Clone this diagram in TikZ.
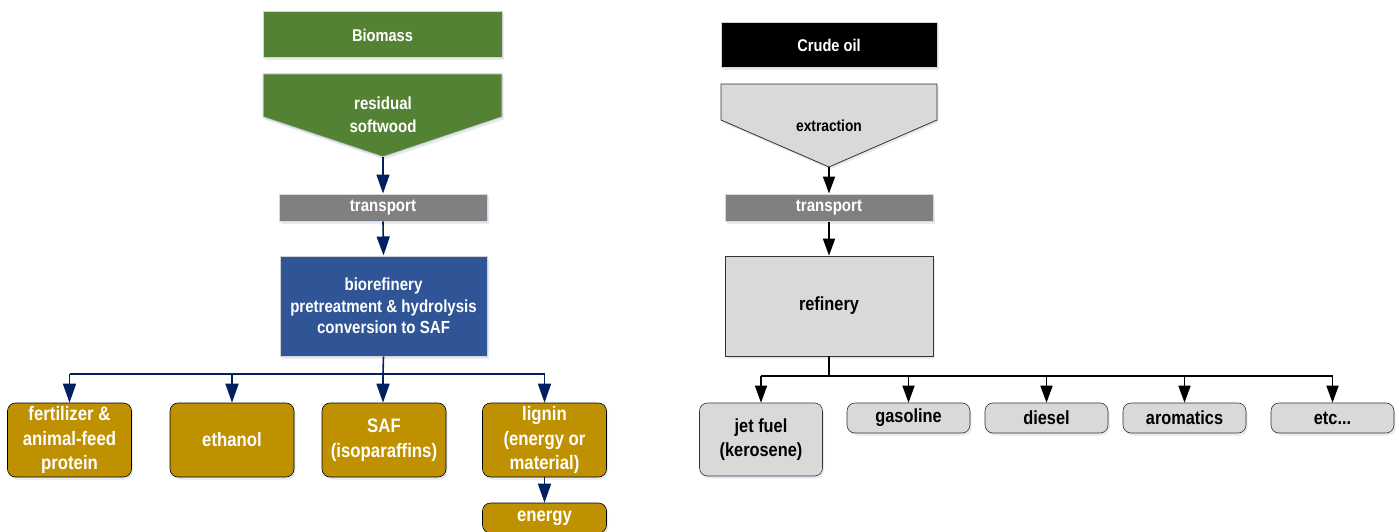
\documentclass[tikz,border=0pt]{standalone}
\usepackage{fontspec}
\setmainfont{Liberation Sans}[FakeStretch=0.86]
\usetikzlibrary{arrows.meta,shadows}
\definecolor{bmgreen}{HTML}{548235}
\definecolor{bmblue}{HTML}{2F5597}
\definecolor{bmgold}{HTML}{BF9000}
\definecolor{navy}{HTML}{002060}
\definecolor{lgray}{HTML}{D9D9D9}
\definecolor{mgray}{HTML}{808080}
\definecolor{shad}{HTML}{DCE6F2}
\tikzset{
  shd/.style={drop shadow={shadow xshift=1.5pt,shadow yshift=-2.5pt,fill=shad,opacity=0.8}},
  topbox/.style={draw=gray!35,line width=1pt,shd,font=\bfseries\fontsize{17}{20}\selectfont,inner sep=0pt},
  transbox/.style={draw=gray!30,line width=1pt,fill=mgray,text=white,minimum width=208pt,minimum height=27pt,shd,font=\bfseries\fontsize{17.5}{20}\selectfont,inner sep=0pt},
  goldbox/.style={draw=black,line width=0.6pt,fill=bmgold,text=white,rounded corners=8pt,minimum width=124pt,align=center,shd,font=\bfseries\fontsize{19.5}{24.5}\selectfont,inner sep=0pt},
  graybox/.style={draw=black!80,line width=0.6pt,fill=lgray,text=black,rounded corners=8pt,minimum width=123pt,align=center,shd,font=\bfseries\fontsize{19}{24}\selectfont,inner sep=0pt},
  navyarr/.style={draw=navy,line width=1.6pt,-{Triangle[length=19pt,width=13pt]}},
  blkarr/.style={draw=black,line width=1.6pt,-{Triangle[length=17pt,width=12pt]}},
  navyline/.style={draw=navy,line width=1.6pt},
  blkline/.style={draw=black,line width=1.6pt},
}
\begin{document}
\begin{tikzpicture}[x=1pt,y=-1pt]
\useasboundingbox (0,0) rectangle (1399,532);
\fill[white] (0,0) rectangle (1399,532);
% ---------- left column ----------
\node[topbox,fill=bmgreen,text=white,minimum width=239pt,minimum height=46pt] (biomass) at (382.5,35) {Biomass};
\path[draw=gray!35,line width=1pt,fill=bmgreen,shd] (263,74) -- (502,74) -- (502,117) -- (383,157) -- (263,117) -- cycle;
\coordinate (softtip) at (383,157);
\node[font=\bfseries\fontsize{17.5}{23}\selectfont,text=white,align=center] (soft) at (383,115) {residual\\softwood};
\node[transbox] (trans1) at (383,207.5) {transport};
\node[draw=gray!35,line width=1pt,fill=bmblue,text=white,minimum width=207pt,minimum height=100pt,align=center,shd,font=\bfseries\fontsize{17.5}{21.5}\selectfont,inner sep=0pt] (bioref) at (383.5,306) {biorefinery\\pretreatment \& hydrolysis\\conversion to SAF};
\node[goldbox,minimum height=74pt] (fert) at (69.5,440) {fertilizer \&\\animal-feed\\protein};
\node[goldbox,minimum height=74pt] (eth) at (232,440) {ethanol};
\node[goldbox,minimum height=74pt] (saf) at (384,440) {SAF\\(isoparaffins)};
\node[goldbox,minimum height=74pt] (lig) at (544.5,440) {lignin\\(energy or\\material)};
\node[goldbox,minimum height=30pt] (energy) at (544.5,518) {energy};
\draw[navyarr] (softtip) -- (trans1.north);
\draw[navyarr] (trans1.south) -- (bioref.north);
\coordinate (lsplit) at (383,374);
\draw[navyline] (bioref.south) -- (lsplit);
\draw[navyline] (fert.north |- lsplit) -- (lig.north |- lsplit);
\draw[navyarr] (fert.north |- lsplit) -- (fert.north);
\draw[navyarr] (eth.north |- lsplit) -- (eth.north);
\draw[navyarr] (lsplit) -- (saf.north -| lsplit);
\draw[navyarr] (lig.north |- lsplit) -- (lig.north);
\draw[navyarr] (lig.south) -- (energy.north);
% ---------- right column ----------
\node[topbox,fill=black,text=white,minimum width=216pt,minimum height=45pt] (crude) at (829,45.5) {Crude oil};
\path[draw=black!80,line width=0.8pt,fill=lgray,shd] (721,84) -- (937,84) -- (937,120) -- (829,167) -- (721,120) -- cycle;
\coordinate (extip) at (829,167);
\node[font=\bfseries\fontsize{16}{19}\selectfont,text=black] (extr) at (829,126) {extraction};
\node[transbox] (trans2) at (829,207.5) {transport};
\node[draw=black!80,line width=0.8pt,fill=lgray,text=black,minimum width=208pt,minimum height=100pt,shd,font=\bfseries\fontsize{19}{22}\selectfont,inner sep=0pt] (ref) at (829,306) {refinery};
\node[graybox,minimum height=73pt] (jet) at (761,439.5) {jet fuel\\(kerosene)};
\node[graybox,minimum height=30pt] (gas) at (908.5,418) {gasoline};
\node[graybox,minimum height=30pt] (dies) at (1046.5,418) {diesel};
\node[graybox,minimum height=30pt] (arom) at (1184.5,418) {aromatics};
\node[graybox,minimum height=30pt] (etc) at (1332.5,418) {etc...};
\draw[blkarr] (extip) -- (trans2.north);
\draw[blkarr] (trans2.south) -- (ref.north);
\coordinate (rsplit) at (829,376);
\draw[blkline] (ref.south) -- (rsplit);
\draw[blkline] (jet.north |- rsplit) -- (etc.north |- rsplit);
\draw[blkarr] (jet.north |- rsplit) -- (jet.north);
\draw[blkarr] (gas.north |- rsplit) -- (gas.north);
\draw[blkarr] (dies.north |- rsplit) -- (dies.north);
\draw[blkarr] (arom.north |- rsplit) -- (arom.north);
\draw[blkarr] (etc.north |- rsplit) -- (etc.north);
\end{tikzpicture}
\end{document}
